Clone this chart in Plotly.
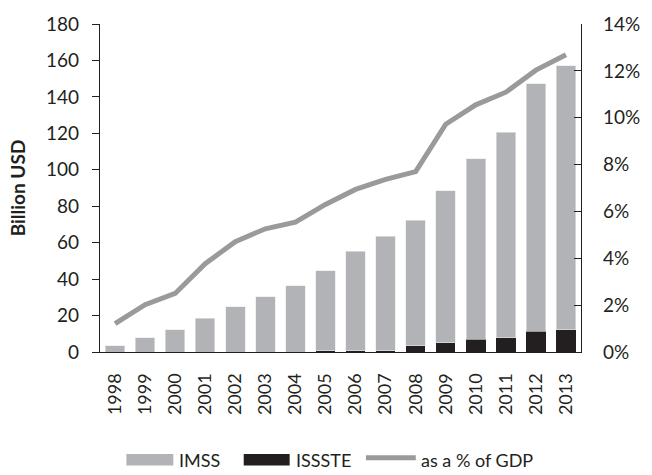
import plotly.graph_objects as go

# Pension spending, Mexico 1998-2013
years = [str(y) for y in range(1998, 2014)]
issste = [0, 0, 0, 0, 0, 0, 0, 0.8, 0.8, 0.8, 3.4, 5.2, 6.9, 7.8, 11.4, 12.2]
total = [3.4, 7.8, 12.2, 18.6, 24.9, 30.2, 36.4, 44.6, 55.2, 63.4, 72.2, 88.4, 106.1, 120.5, 147.3, 157.1]
imss = [round(t - i, 1) for t, i in zip(total, issste)]
pct_gdp = [1.21, 2.02, 2.5, 3.77, 4.71, 5.26, 5.54, 6.3, 6.94, 7.37, 7.7, 9.72, 10.55, 11.09, 12.03, 12.69]

left_ticks = list(range(0, 181, 20))
right_ticks = list(range(0, 15, 2))
right_labels = [f"{v}%" for v in right_ticks]

IMSS_COLOR = "#b1b3b6"
ISSSTE_COLOR = "#231f20"
LINE_COLOR = "#9a9a9a"
INK = "#231f20"
FONT = "Lato"

fig = go.Figure()
fig.add_trace(go.Bar(x=years, y=issste, name="ISSSTE", marker=dict(color=ISSSTE_COLOR, line=dict(width=0)),
                     showlegend=False))
fig.add_trace(go.Bar(x=years, y=imss, name="IMSS", marker=dict(color=IMSS_COLOR, line=dict(color="#e6e7e8", width=0.6)),
                     showlegend=False))
fig.add_trace(go.Scatter(x=years, y=pct_gdp, name="as a % of GDP", yaxis="y2", mode="lines",
                         line=dict(color=LINE_COLOR, width=5), showlegend=False))

axis_line = dict(showline=True, linecolor=INK, linewidth=1.3, showgrid=False, zeroline=False)

fig.update_layout(
    width=652, height=475,
    margin=dict(l=100, r=60, t=14, b=123),
    paper_bgcolor="white", plot_bgcolor="white",
    barmode="stack", bargap=0.35,
    font=dict(family=FONT, size=18, color=INK),
    xaxis=dict(type="category", range=[-0.5, 15.5], tickangle=-90, ticks="",
               tickfont=dict(size=18), ticklabelstandoff=13, **axis_line),
    yaxis=dict(range=[0, 180], tickvals=left_ticks, ticks="outside", ticklen=7, tickwidth=1.3,
               tickcolor=INK, ticklabelstandoff=9, tickfont=dict(size=19),
               title=dict(text="<b>Billion USD</b>", font=dict(size=19), standoff=15),
               **axis_line),
    yaxis2=dict(range=[0, 14], tickvals=right_ticks, ticktext=right_labels, overlaying="y", side="right",
                anchor="x", ticks="inside", ticklen=7, tickwidth=1.3, tickcolor=INK,
                tickfont=dict(size=19), ticklabelstandoff=17, **axis_line),
    # inner half of the crossing ticks on the left axis
    yaxis3=dict(range=[0, 180], tickvals=left_ticks, overlaying="y", side="left", anchor="x",
                ticks="inside", ticklen=6, tickwidth=1.3, tickcolor=INK, showticklabels=False,
                showline=False, showgrid=False, zeroline=False),
)

# Legend drawn below the plot area
plot_x0, plot_w = 100, 492
plot_y1, plot_h = 352, 338


def px(x):
    return (x - plot_x0) / plot_w


def py(y):
    return (plot_y1 - y) / plot_h


legend_items = [
    ("rect", IMSS_COLOR, 127, 175, "IMSS", 179),
    ("rect", ISSSTE_COLOR, 247, 294, "ISSSTE", 298),
    ("line", LINE_COLOR, 372, 423, "as a % of GDP", 426),
]
ly = 463
for kind, color, x0, x1, label, tx in legend_items:
    if kind == "rect":
        fig.add_shape(type="rect", xref="paper", yref="paper", x0=px(x0), x1=px(x1),
                      y0=py(ly + 6), y1=py(ly - 6), fillcolor=color, line=dict(width=0))
    else:
        fig.add_shape(type="line", xref="paper", yref="paper", x0=px(x0), x1=px(x1),
                      y0=py(ly - 2), y1=py(ly - 2), line=dict(color=color, width=5))
    fig.add_annotation(text=label, xref="paper", yref="paper", x=px(tx), y=py(ly),
                       xanchor="left", yanchor="middle", showarrow=False,
                       font=dict(size=18, family=FONT, color=INK))

fig.write_html("out.html")
